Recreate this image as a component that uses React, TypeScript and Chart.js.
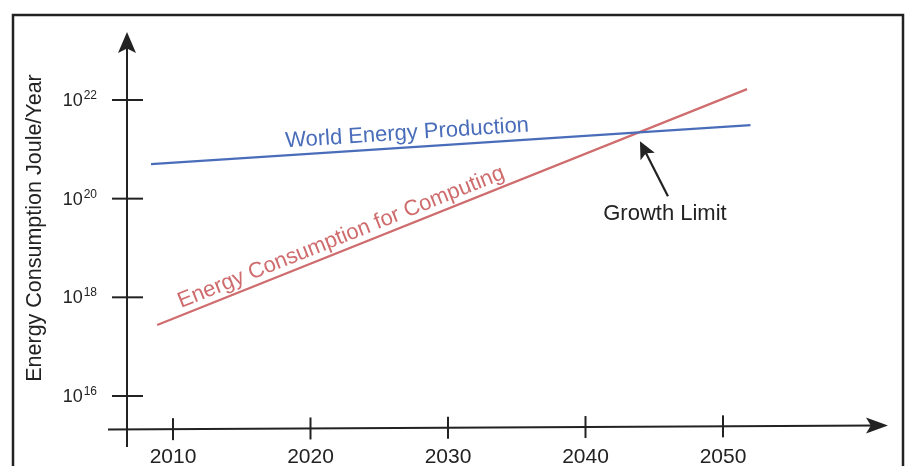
import React, { useEffect, useRef } from "react";
import { Chart, registerables } from "chart.js";

Chart.register(...registerables);

// Years and yearly energy (Joule/Year) at the ends of each straight trend (log scale)
const productionYears = [2008.4, 2052.0];
const productionValues = [5.0e20, 3.1e21];
const computingYears = [2008.85, 2051.75];
const computingValues = [2.75e17, 1.66e22];

// Axis ticks
const yearTicks = [2010, 2020, 2030, 2040, 2050];
const exponentTicks = [16, 18, 20, 22];

const yTitle = "Energy Consumption Joule/Year";
const productionLabel = "World Energy Production";
const computingLabel = "Energy Consumption for Computing";
const limitLabel = "Growth Limit";

const BLUE = "#4a6dba";
const RED = "#cf6c6e";
const INK = "#222222";
const FONT = "'Liberation Sans', Arial, Helvetica, sans-serif";

function arrowHead(ctx: CanvasRenderingContext2D, tipX: number, tipY: number, angle: number, len: number, half: number) {
  ctx.save();
  ctx.translate(tipX, tipY);
  ctx.rotate(angle);
  ctx.beginPath();
  ctx.moveTo(0, 0);
  ctx.lineTo(-len, -half);
  ctx.lineTo(-len * 0.78, 0);
  ctx.lineTo(-len, half);
  ctx.closePath();
  ctx.fill();
  ctx.restore();
}

const decorations = {
  id: "decorations",
  afterDraw(chart: any) {
    const ctx: CanvasRenderingContext2D = chart.ctx;
    const xs = chart.scales.x;
    const ys = chart.scales.y;
    const area = chart.chartArea;
    ctx.save();
    ctx.strokeStyle = INK;
    ctx.fillStyle = INK;

    // outer frame
    ctx.lineWidth = 2.5;
    ctx.strokeRect(13, 15, 890, 480);

    // y axis with arrow
    const ax = area.left;
    ctx.lineWidth = 2;
    ctx.beginPath();
    ctx.moveTo(ax, area.top + 12);
    ctx.lineTo(ax, 447);
    ctx.stroke();
    arrowHead(ctx, ax, area.top, -Math.PI / 2, 21, 9);

    // x axis (slightly rising) with arrow
    const x0 = 108;
    const x1 = area.right;
    const yL = area.bottom + 0.5;
    const yR = area.bottom - 3.5;
    const axisY = (x: number) => yL + ((x - x0) / (x1 - x0)) * (yR - yL);
    ctx.beginPath();
    ctx.moveTo(x0, yL);
    ctx.lineTo(x1 - 12, axisY(x1 - 12));
    ctx.stroke();
    arrowHead(ctx, x1, yR, Math.atan2(yR - yL, x1 - x0), 22, 8);

    // x ticks and labels
    ctx.font = `21px ${FONT}`;
    ctx.textAlign = "center";
    ctx.textBaseline = "alphabetic";
    for (const yr of yearTicks) {
      const px = xs.getPixelForValue(yr);
      const py = axisY(px);
      ctx.beginPath();
      ctx.moveTo(px, py - 11);
      ctx.lineTo(px, py + 11);
      ctx.stroke();
      ctx.fillText(String(yr), px, 463);
    }

    // y ticks and power-of-ten labels
    for (const e of exponentTicks) {
      const py = ys.getPixelForValue(Math.pow(10, e));
      ctx.beginPath();
      ctx.moveTo(ax - 15, py);
      ctx.lineTo(ax + 16, py);
      ctx.stroke();
      const supX = 97;
      ctx.font = `12px ${FONT}`;
      ctx.textAlign = "right";
      ctx.textBaseline = "alphabetic";
      const sup = String(e);
      const supW = ctx.measureText(sup).width;
      ctx.fillText(sup, supX, py - 1);
      ctx.font = `18px ${FONT}`;
      ctx.fillText("10", supX - supW - 1, py + 6);
    }

    // y axis title
    ctx.save();
    ctx.translate(41, 228);
    ctx.rotate(-Math.PI / 2);
    ctx.font = `21.5px ${FONT}`;
    ctx.textAlign = "center";
    ctx.textBaseline = "alphabetic";
    ctx.fillText(yTitle, 0, 0);
    ctx.restore();

    // labels laid along each trend line
    const px = (yr: number) => xs.getPixelForValue(yr);
    const py = (v: number) => ys.getPixelForValue(v);
    const lineLabel = (years: number[], vals: number[], text: string, color: string, atX: number, lift: number) => {
      const ax0 = px(years[0]), ay0 = py(vals[0]);
      const ax1 = px(years[1]), ay1 = py(vals[1]);
      const ang = Math.atan2(ay1 - ay0, ax1 - ax0);
      const yAt = ay0 + ((atX - ax0) / (ax1 - ax0)) * (ay1 - ay0);
      ctx.save();
      ctx.translate(atX, yAt);
      ctx.rotate(ang);
      ctx.font = `22px ${FONT}`;
      ctx.fillStyle = color;
      ctx.textAlign = "center";
      ctx.textBaseline = "alphabetic";
      ctx.fillText(text, 0, -lift);
      ctx.restore();
    };
    lineLabel(productionYears, productionValues, productionLabel, BLUE, 408, 8);
    lineLabel(computingYears, computingValues, computingLabel, RED, 346, 7);

    // crossing point of the two trends -> growth limit marker
    const b0 = { x: px(productionYears[0]), y: py(productionValues[0]) };
    const b1 = { x: px(productionYears[1]), y: py(productionValues[1]) };
    const r0 = { x: px(computingYears[0]), y: py(computingValues[0]) };
    const r1 = { x: px(computingYears[1]), y: py(computingValues[1]) };
    const mb = (b1.y - b0.y) / (b1.x - b0.x);
    const mr = (r1.y - r0.y) / (r1.x - r0.x);
    const cx = (r0.y - mr * r0.x - (b0.y - mb * b0.x)) / (mb - mr);
    const cy = b0.y + mb * (cx - b0.x);

    const tip = { x: cx + 1, y: cy + 9 };
    const tail = { x: cx + 29, y: cy + 64 };
    ctx.lineWidth = 2.2;
    ctx.beginPath();
    ctx.moveTo(tail.x, tail.y);
    ctx.lineTo(tip.x + (tail.x - tip.x) * 0.2, tip.y + (tail.y - tip.y) * 0.2);
    ctx.stroke();
    arrowHead(ctx, tip.x, tip.y, Math.atan2(tip.y - tail.y, tip.x - tail.x), 17, 8);

    ctx.font = `22px ${FONT}`;
    ctx.fillStyle = INK;
    ctx.textAlign = "center";
    ctx.textBaseline = "alphabetic";
    ctx.fillText(limitLabel, cx + 26, cy + 88);

    ctx.restore();
  },
};

export default function App() {
  const canvasRef = useRef<HTMLCanvasElement | null>(null);

  useEffect(() => {
    document.body.style.margin = "0";
    const canvas = canvasRef.current;
    if (!canvas) return;
    const toPoints = (xs: number[], ys: number[]) => xs.map((x, i) => ({ x, y: ys[i] }));
    const chart = new Chart(canvas, {
      type: "line",
      data: {
        datasets: [
          {
            label: productionLabel,
            data: toPoints(productionYears, productionValues),
            borderColor: BLUE,
            borderWidth: 2.2,
            pointRadius: 0,
            tension: 0,
            fill: false,
          },
          {
            label: computingLabel,
            data: toPoints(computingYears, computingValues),
            borderColor: RED,
            borderWidth: 2.2,
            pointRadius: 0,
            tension: 0,
            fill: false,
          },
        ],
      },
      options: {
        responsive: false,
        animation: false,
        devicePixelRatio: 1,
        layout: { padding: { left: 127, right: 24, top: 32, bottom: 37 } },
        scales: {
          x: { type: "linear", display: false, min: 2006.655, max: 2062.0 },
          y: { type: "logarithmic", display: false, min: Math.pow(10, 15.331), max: Math.pow(10, 23.378) },
        },
        plugins: { legend: { display: false }, tooltip: { enabled: false } },
      },
      plugins: [decorations],
    } as any);
    return () => chart.destroy();
  }, []);

  return (
    <div style={{ position: "absolute", left: 0, top: 0, width: 912, height: 466, background: "#ffffff" }}>
      <canvas ref={canvasRef} width={912} height={466} />
    </div>
  );
}
